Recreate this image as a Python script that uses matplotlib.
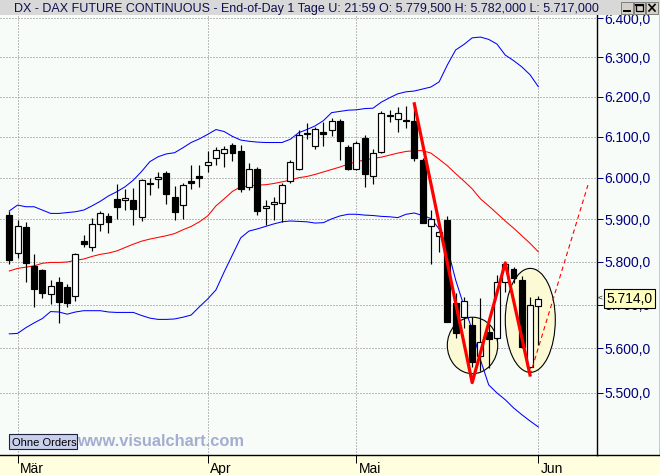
import matplotlib
matplotlib.use('Agg')
import matplotlib.pyplot as plt
from matplotlib.patches import Ellipse, Rectangle
from matplotlib.lines import Line2D
from matplotlib.ticker import FixedLocator, FuncFormatter, NullLocator
import numpy as np

plt.rcParams['font.family'] = ['Liberation Sans', 'DejaVu Sans']

# daily OHLC, 28 Feb - 1 Jun (trading days)
opens = [5910, 5820, 5882, 5790, 5780, 5724, 5753, 5741, 5720, 5849,
         5834, 5889, 5907, 5948, 5946, 5946, 5905, 5988, 5996, 6012,
         5953, 5933, 5992, 6003, 6031, 6048, 6061, 6079, 6066, 5978,
         6021, 5926, 5936, 5940, 5993, 6022, 6110, 6077, 6113, 6117,
         6140, 6075, 6022, 6096, 6004, 6063, 6155, 6144, 6142, 6140,
         6042, 5884, 5861, 5898, 5703, 5671, 5653, 5583, 5637, 5623,
         5753, 5782, 5757, 5559, 5697]
highs = [5921, 5898, 5894, 5818, 5783, 5757, 5764, 5748, 5821, 5863,
         5902, 5921, 5914, 5984, 5973, 5975, 5996, 5999, 6013, 6017,
         5980, 5988, 6031, 6032, 6066, 6076, 6077, 6086, 6079, 6036,
         6027, 5946, 5953, 5987, 6044, 6118, 6135, 6125, 6137, 6147,
         6143, 6079, 6090, 6104, 6069, 6163, 6167, 6174, 6176, 6179,
         6048, 5922, 5892, 5908, 5726, 5718, 5671, 5716, 5657, 5769,
         5797, 5787, 5767, 5718, 5720]
lows = [5794, 5809, 5753, 5695, 5716, 5701, 5658, 5695, 5709, 5834,
        5825, 5871, 5868, 5900, 5922, 5886, 5896, 5959, 5975, 5936,
        5898, 5901, 5972, 5977, 6014, 6030, 6027, 6040, 5966, 5970,
        5910, 5887, 5898, 5894, 5987, 6019, 6095, 6069, 6077, 6102,
        6042, 6019, 6019, 5978, 5984, 6061, 6137, 6113, 6121, 6040,
        5891, 5794, 5823, 5661, 5623, 5646, 5559, 5548, 5555, 5619,
        5730, 5750, 5600, 5555, 5608]
closes = [5804, 5884, 5797, 5736, 5727, 5742, 5707, 5704, 5818, 5842,
          5888, 5916, 5893, 5930, 5951, 5924, 5994, 5984, 6002, 5961,
          5918, 5982, 5988, 5999, 6039, 6068, 6071, 6061, 5973, 6021,
          5921, 5932, 5942, 5982, 6038, 6104, 6107, 6120, 6108, 6139,
          6090, 6022, 6086, 6008, 6061, 6159, 6152, 6159, 6140, 6047,
          5892, 5900, 5869, 5661, 5634, 5708, 5570, 5615, 5621, 5753,
          5794, 5761, 5604, 5699, 5714]

# bollinger bands
upper_band = [5920, 5934, 5930, 5930, 5922, 5914, 5914, 5916, 5918, 5922,
              5932, 5943, 5956, 5966, 5978, 5994, 6015, 6039, 6051, 6058,
              6061, 6073, 6086, 6095, 6106, 6118, 6113, 6101, 6092, 6089,
              6087, 6086, 6086, 6086, 6094, 6110, 6118, 6127, 6140, 6160,
              6163, 6166, 6167, 6170, 6171, 6186, 6197, 6207, 6212, 6214,
              6219, 6224, 6237, 6280, 6318, 6332, 6349, 6351, 6345, 6333,
              6305, 6291, 6275, 6255, 6225]
mid_band = [5778, 5784, 5787, 5790, 5796, 5798, 5798, 5799, 5803, 5806,
            5812, 5817, 5820, 5825, 5833, 5841, 5848, 5853, 5857, 5861,
            5866, 5875, 5883, 5894, 5908, 5932, 5949, 5967, 5978, 5980,
            5982, 5983, 5986, 5990, 5994, 6000, 6003, 6008, 6014, 6020,
            6026, 6033, 6039, 6043, 6047, 6050, 6055, 6060, 6064, 6066,
            6066, 6060, 6045, 6029, 6010, 5992, 5973, 5949, 5932, 5914,
            5896, 5879, 5861, 5843, 5823]
lower_band = [5633, 5634, 5647, 5658, 5668, 5684, 5683, 5678, 5683, 5686,
              5686, 5686, 5683, 5682, 5682, 5682, 5675, 5669, 5666, 5666,
              5667, 5671, 5676, 5695, 5713, 5734, 5776, 5816, 5856, 5872,
              5877, 5883, 5889, 5894, 5896, 5895, 5894, 5891, 5892, 5901,
              5908, 5912, 5912, 5910, 5909, 5907, 5906, 5904, 5912, 5915,
              5909, 5902, 5877, 5832, 5757, 5697, 5642, 5574, 5518, 5500,
              5485, 5467, 5452, 5438, 5425]

months = ['Mär', 'Apr', 'Mai', 'Jun']
month_idx = [1, 24, 42, 64]
levels = [5500, 5600, 5700, 5800, 5900, 6000, 6100, 6200, 6300, 6400]

# hand drawn annotations
zig_x = [49, 56, 60, 63]
zig_y = [6182, 5523, 5797, 5540]
proj_x = [63, 70]
proj_y = [5540, 5982]
# (centre index, width in bars, low, high)
circles = [(56.04, 6.1, 5543, 5671), (63.03, 6.05, 5546, 5784)]

header = ('DX - DAX FUTURE CONTINUOUS - End-of-Day 1 Tage U: 21:59 '
          'O: 5.779,500 H: 5.782,000 L: 5.717,000')

bg = '#F8FCF8'
W, H = 660, 475


def fx(px):
    return px / W


def fy(py):
    return 1 - py / H


def de(v):
    return f'{v:,.1f}'.replace(',', '#').replace('.', ',').replace('#', '.')


fig = plt.figure(figsize=(6.6, 4.75), dpi=100, facecolor=bg)
ax = fig.add_axes([0, 20 / H, 597 / W, 440 / H])
ax.set_facecolor(bg)
ax.set_yscale('log')
ax.set_ylim(5363.8, 6407.9)
ax.set_xlim(-1.125, 71.1)

idx = np.arange(len(opens))
o = np.array(opens, float)
c = np.array(closes, float)
bull = c >= o
bot = np.minimum(o, c)
hgt = np.maximum(np.abs(c - o), 1.2)

for cx, w, lo, hi in circles:
    ax.add_patch(Ellipse((cx, (lo + hi) / 2), w, hi - lo, facecolor='#FCFAD4',
                         edgecolor='black', lw=0.8, zorder=2))

ax.plot(idx, upper_band, color='#0000FF', lw=0.75, zorder=3)
ax.plot(idx, lower_band, color='#0000FF', lw=0.75, zorder=3)
ax.plot(idx, mid_band, color='#FF0000', lw=0.75, zorder=3)

ax.vlines(idx, lows, highs, color='black', lw=0.85, zorder=4)
ax.bar(idx[bull], hgt[bull], bottom=bot[bull], width=0.72, color='white',
       edgecolor='black', lw=0.85, zorder=5)
ax.bar(idx[~bull], hgt[~bull], bottom=bot[~bull], width=0.72, color='black',
       edgecolor='black', lw=0.85, zorder=5)

ax.plot(zig_x, zig_y, color='#FF0000', lw=2.3, zorder=7, solid_joinstyle='round')
ax.plot(proj_x, proj_y, color='#FF0000', lw=0.8, dashes=(4, 3), zorder=7)

# axes styling
ax.yaxis.tick_right()
ax.yaxis.set_major_locator(FixedLocator(levels))
ax.yaxis.set_minor_locator(NullLocator())
ax.yaxis.set_major_formatter(FuncFormatter(lambda v, p: de(v)))
ax.tick_params(axis='y', colors='#000080', length=4.3, width=0.72, pad=1,
               labelsize=10)
ax.set_xticks(month_idx)
ax.tick_params(axis='x', length=5.8, width=0.72, color='black',
               labelbottom=False)
ax.grid(True, color='#808080', lw=0.72, linestyle=(0, (1, 2)))
ax.set_axisbelow(True)
for s in ['left', 'top']:
    ax.spines[s].set_visible(False)
ax.spines['right'].set_linewidth(1)
ax.spines['bottom'].set_linewidth(1)

for m, i in zip(months, month_idx):
    ax.annotate(m, xy=(i, 0), xycoords=('data', 'axes fraction'),
                xytext=(1.5, -13), textcoords='offset points', ha='left',
                va='baseline', fontsize=10, annotation_clip=False)

# last price marker
ax.annotate(de(closes[-1]), xy=(1, closes[-1]), xycoords=('axes fraction', 'data'),
            xytext=(6.8, 0), textcoords='offset points', ha='left', va='center',
            fontsize=10, zorder=12, annotation_clip=False,
            bbox=dict(boxstyle='square,pad=0.15', fc='#FFFFC0', ec='black', lw=0.8))
ax.annotate('<', xy=(1, closes[-1]), xycoords=('axes fraction', 'data'),
            xytext=(0.8, 0), textcoords='offset points', ha='left', va='center',
            fontsize=6, zorder=12, annotation_clip=False)

# frame pieces outside the axes
fig.add_artist(Rectangle((0, 0), 1, 20 / H, transform=fig.transFigure,
                         facecolor='#FFFFE0', edgecolor='none', zorder=-1))
fig.add_artist(Line2D([fx(597), 1], [fy(455), fy(455)], color='black', lw=1,
                      transform=fig.transFigure))
fig.add_artist(Line2D([fx(659.5), fx(659.5)], [fy(15), fy(455)], color='black',
                      lw=1, transform=fig.transFigure))

# title bar
fig.add_artist(Rectangle((0, fy(15)), 1, 15 / H, transform=fig.transFigure,
                         facecolor='#D8D8D8', edgecolor='none', zorder=10))
fig.text(fx(14), fy(12), header, fontsize=9, color='#101050', va='baseline',
         zorder=11)
fig.add_artist(Rectangle((fx(617), fy(15)), 43 / W, 15 / H,
                         transform=fig.transFigure, facecolor='#D8D8D8',
                         edgecolor='none', zorder=12))
for bx in [621, 633.5, 646]:
    fig.add_artist(Rectangle((fx(bx), fy(13.5)), 11.5 / W, 11.5 / H,
                             transform=fig.transFigure, facecolor='#D4D0C8',
                             edgecolor='#707070', lw=0.6, zorder=13))
fig.add_artist(Line2D([fx(624), fx(630)], [fy(11), fy(11)], color='black', lw=1.4,
                      transform=fig.transFigure, zorder=14))
fig.add_artist(Rectangle((fx(636), fy(11)), 6.5 / W, 6.5 / H,
                         transform=fig.transFigure, facecolor='none',
                         edgecolor='black', lw=0.9, zorder=14))
fig.add_artist(Line2D([fx(636.3), fx(636.3) + 6.5 / W], [fy(4.5), fy(4.5)],
                      color='black', lw=1.6, transform=fig.transFigure, zorder=14))
fig.add_artist(Line2D([fx(649), fx(655)], [fy(4.5), fy(11)], color='black', lw=1.2,
                      transform=fig.transFigure, zorder=14))
fig.add_artist(Line2D([fx(649), fx(655)], [fy(11), fy(4.5)], color='black', lw=1.2,
                      transform=fig.transFigure, zorder=14))

# bottom-left button and watermark
fig.add_artist(Rectangle((fx(9.3), fy(449.3)), 67.3 / W, 15.3 / H,
                         transform=fig.transFigure, facecolor='#C9D0EC',
                         edgecolor='#202040', lw=0.8, zorder=10))
fig.text(fx(12), fy(445.5), 'Ohne Orders', fontsize=8, color='black',
         va='baseline', zorder=11)
fig.text(fx(77), fy(445.5), 'www.visualchart.com', fontsize=11.8,
         fontweight='bold', color='#A4ADD2', va='baseline', zorder=11)

fig.savefig('out.png', dpi=100, facecolor=bg)
